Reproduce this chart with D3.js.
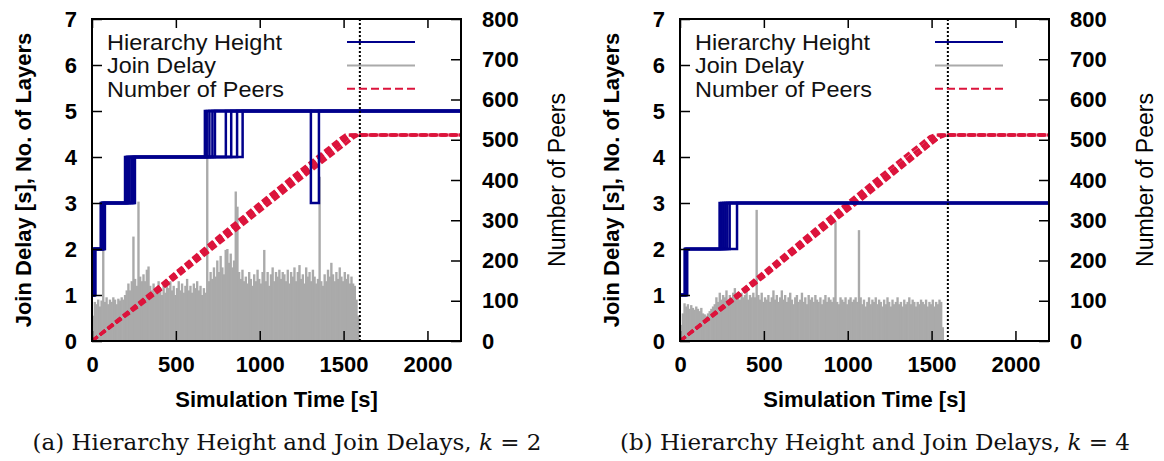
<!DOCTYPE html>
<html>
<head>
<meta charset="utf-8">
<script src="https://cdn.jsdelivr.net/npm/d3@7"></script>
<style>
  body { margin: 0; background: #fff; }
</style>
</head>
<body>
<svg id="chart" width="1164" height="461"></svg>
<script>
// axis ticks
const xTicks = [0, 500, 1000, 1500, 2000];
const yTicks = [0, 1, 2, 3, 4, 5, 6, 7];
const y2Ticks = [0, 100, 200, 300, 400, 500, 600, 700, 800];
const legendLabels = ["Hierarchy Height", "Join Delay", "Number of Peers"];

// join delay [s], one value per 10 s bin starting at t = 0
const binSize = 10;
const delayA = [
  0.55,0.85,0.8,0.9,0.75,0.88,1.98,0.85,0.95,0.8,
  0.9,0.85,0.95,0.9,0.8,0.92,0.88,0.95,0.9,1.0,
  1.1,1.25,1.1,1.3,2.27,1.35,1.2,3.03,1.4,1.3,
  1.45,1.3,1.55,1.62,1.2,1.1,1.25,1.05,1.15,1.3,
  1.1,1.0,1.2,1.05,1.25,1.15,1.3,1.1,1.2,1.0,
  1.15,1.3,1.1,1.25,1.05,1.2,1.35,1.1,1.2,1.05,
  1.25,1.15,1.3,1.1,1.2,1.0,1.15,1.05,4.0,1.3,
  1.5,1.35,1.6,1.4,1.75,1.5,1.85,1.6,1.45,1.98,
  2.0,1.7,1.9,1.6,1.75,3.25,2.92,1.5,1.35,1.55,
  1.3,1.4,1.25,1.5,1.35,1.2,1.45,1.3,1.55,1.35,
  1.25,1.5,1.98,1.3,1.5,1.2,1.45,1.6,1.3,1.5,
  1.4,1.55,1.35,1.5,1.45,1.3,1.55,1.25,1.5,1.4,
  1.6,1.3,1.5,1.65,1.35,1.45,1.25,1.6,1.4,1.5,
  1.3,1.55,1.4,1.25,1.35,3.57,1.3,1.2,1.45,1.3,
  1.55,1.4,1.7,1.45,1.3,1.5,1.35,1.6,1.4,1.3,
  1.5,1.35,1.45,1.25,1.4,1.25,1.2,0.9,0.55
];
const delayB = [
  0.35,0.6,0.82,0.75,0.8,0.7,0.78,0.72,0.68,0.75,
  0.7,0.65,0.72,0.6,0.58,0.55,0.6,0.65,0.7,0.75,
  0.8,0.95,0.85,1.05,0.9,1.0,0.95,1.1,0.9,1.0,
  0.95,1.05,1.15,0.95,1.0,0.9,1.05,0.95,1.0,1.1,
  0.9,1.0,0.95,1.05,0.95,2.85,1.0,0.9,1.05,0.85,
  0.95,0.9,1.0,0.85,0.95,1.1,0.9,1.0,0.85,0.95,
  1.1,0.9,1.0,0.85,0.95,1.05,0.9,0.8,0.95,1.0,
  0.85,0.9,1.05,0.85,0.95,0.8,1.0,0.9,0.95,0.85,
  1.0,0.9,0.85,0.95,0.8,0.9,1.0,0.85,0.95,0.9,
  0.85,0.95,2.6,0.85,0.8,0.95,0.9,0.85,0.95,0.8,
  0.9,0.95,0.85,0.9,0.95,0.85,2.41,0.95,0.8,0.9,
  0.75,0.85,0.95,0.8,0.9,0.85,0.95,0.8,0.9,0.85,
  0.75,0.9,0.8,0.95,0.85,0.75,0.9,0.8,0.85,0.95,
  0.8,0.85,0.75,0.9,0.8,0.85,0.95,0.8,0.9,0.85,
  0.75,0.85,0.8,0.9,0.85,0.8,0.9,0.75,0.85,0.8,
  0.9,0.75,0.85,0.8,0.9,0.85,0.3
];

// hierarchy height per run: [time, layers] step points
const heightRunsA = [
  [[0,1],[8,2],[52,3],[197,4],[673,5],[1305,3],[1353,5]],
  [[0,1],[12,2],[58,3],[205,4],[684,5]],
  [[0,1],[15,2],[62,3],[214,4],[700,5]],
  [[0,1],[18,2],[66,3],[224,4],[718,5]],
  [[0,1],[20,2],[70,3],[236,4],[733,5]],
  [[0,1],[10,2],[74,3],[244,4],[798,5]],
  [[0,1],[14,2],[77,3],[250,4],[830,5]],
  [[0,1],[16,2],[60,3],[256,4],[865,5]],
  [[0,1],[11,2],[64,3],[210,4],[898,5]]
];
const heightRunsB = [
  [[0,1],[28,2],[236,3]],
  [[0,1],[32,2],[246,3]],
  [[0,1],[35,2],[258,3]],
  [[0,1],[38,2],[270,3]],
  [[0,1],[40,2],[282,3]],
  [[0,1],[43,2],[296,3]],
  [[0,1],[30,2],[340,3]]
];

// number of peers per run: [time, peers]
const peerRunsA = [
  [[0,0],[400,128],[800,262],[1200,400],[1500,505],[1525,512],[2200,512]],
  [[0,0],[400,136],[800,275],[1200,410],[1480,503],[1510,512],[2200,512]],
  [[0,0],[400,131],[800,268],[1200,394],[1540,508],[1570,512],[2200,512]],
  [[0,0],[400,124],[800,256],[1200,388],[1560,505],[1590,512],[2200,512]],
  [[0,0],[400,133],[800,270],[1200,405],[1530,510],[1550,512],[2200,512]]
];
const peerRunsB = [
  [[0,0],[400,130],[800,265],[1200,398],[1510,506],[1535,512],[2200,512]],
  [[0,0],[400,137],[800,276],[1200,412],[1490,508],[1515,512],[2200,512]],
  [[0,0],[400,126],[800,258],[1200,390],[1550,507],[1580,512],[2200,512]],
  [[0,0],[400,133],[800,270],[1200,404],[1530,509],[1555,512],[2200,512]],
  [[0,0],[400,129],[800,262],[1200,395],[1545,505],[1590,512],[2200,512]]
];

const joinEnd = 1597; // dotted marker, end of join phase

const svg = d3.select('#chart');
const sans = "'Liberation Sans', Arial, Helvetica, sans-serif";
const W = 369, H = 322;
const BLUE = '#00008b', GRAY = '#aaaaaa', RED = '#dc143c';
const fmt = d3.format('d');

function drawPanel(left, top, id, delays, heightRuns, peerRuns, letter, k) {
  const g = svg.append('g').attr('transform', `translate(${left},${top})`);
  const x = d3.scaleLinear().domain([0, 2200]).range([0, W]);
  const y = d3.scaleLinear().domain([0, 7]).range([H, 0]);
  const y2 = d3.scaleLinear().domain([0, 800]).range([H, 0]);

  g.append('clipPath').attr('id', 'clip' + id)
    .append('rect').attr('width', W).attr('height', H);
  const plot = g.append('g').attr('clip-path', `url(#clip${id})`);

  // join delay impulses
  plot.append('g').selectAll('rect')
    .data(delays)
    .enter().append('rect')
    .attr('x', (d, i) => x(i * binSize))
    .attr('width', x(binSize) - x(0) + 0.7)
    .attr('y', d => y(d))
    .attr('height', d => H - y(d))
    .attr('fill', GRAY);

  // number of peers
  const peerLine = d3.line().x(d => x(d[0])).y(d => y2(d[1]));
  plot.append('g').selectAll('path')
    .data(peerRuns)
    .enter().append('path')
    .attr('d', peerLine)
    .attr('fill', 'none')
    .attr('stroke', RED)
    .attr('stroke-width', 3)
    .attr('stroke-dasharray', '7,3');

  // hierarchy height
  const heightLine = d3.line().curve(d3.curveStepAfter)
    .x(d => x(d[0])).y(d => y(d[1]));
  plot.append('g').selectAll('path')
    .data(heightRuns.map(r => r.concat([[2200, r[r.length - 1][1]]])))
    .enter().append('path')
    .attr('d', heightLine)
    .attr('fill', 'none')
    .attr('stroke', BLUE)
    .attr('stroke-width', 2.5);

  // end of join phase
  g.append('line')
    .attr('x1', x(joinEnd)).attr('x2', x(joinEnd))
    .attr('y1', 0).attr('y2', H)
    .attr('stroke', '#000').attr('stroke-width', 2)
    .attr('stroke-dasharray', '2,2');

  // axes
  const ax = [
    g.append('g').attr('transform', `translate(0,${H})`)
      .call(d3.axisBottom(x).tickValues(xTicks).tickFormat(fmt)
        .tickSize(-10).tickSizeOuter(0).tickPadding(15)),
    g.append('g')
      .call(d3.axisTop(x).tickValues(xTicks).tickSize(-9).tickSizeOuter(0).tickFormat('')),
    g.append('g')
      .call(d3.axisLeft(y).tickValues(yTicks).tickFormat(fmt)
        .tickSize(-10).tickSizeOuter(0).tickPadding(15)),
    g.append('g').attr('transform', `translate(${W},0)`)
      .call(d3.axisRight(y2).tickValues(y2Ticks).tickFormat(fmt)
        .tickSize(-10).tickSizeOuter(0).tickPadding(21))
  ];
  ax.forEach(a => {
    a.select('.domain').remove();
    a.selectAll('.tick line').attr('stroke', '#000').attr('stroke-width', 1.5);
    a.selectAll('.tick text')
      .attr('font-family', sans).attr('font-weight', 'bold')
      .attr('font-size', 22).attr('fill', '#000');
  });

  g.append('rect').attr('width', W).attr('height', H)
    .attr('fill', 'none').attr('stroke', '#000').attr('stroke-width', 2);

  // legend
  const legColors = [BLUE, GRAY, RED];
  const legWidths = [175, 109, 177];
  legendLabels.forEach((lab, i) => {
    const by = 31 + i * 23.4;
    g.append('text').attr('x', 15).attr('y', by)
      .attr('font-family', sans).attr('font-size', 22).attr('fill', '#111')
      .attr('textLength', legWidths[i]).attr('lengthAdjust', 'spacingAndGlyphs')
      .text(lab);
    g.append('line')
      .attr('x1', 255).attr('x2', 323)
      .attr('y1', by - 8).attr('y2', by - 8)
      .attr('stroke', legColors[i]).attr('stroke-width', 2)
      .attr('stroke-dasharray', i === 2 ? '8,4' : null);
  });

  // titles
  g.append('text')
    .attr('transform', `translate(-61,${H / 2}) rotate(-90)`)
    .attr('text-anchor', 'middle')
    .attr('font-family', sans).attr('font-weight', 'bold').attr('font-size', 22)
    .text('Join Delay [s], No. of Layers');
  g.append('text')
    .attr('transform', `translate(${W + 104},${H / 2}) rotate(-90)`)
    .attr('text-anchor', 'middle')
    .attr('font-family', sans).attr('font-size', 23)
    .text('Number of Peers');
  g.append('text')
    .attr('x', W / 2).attr('y', 388)
    .attr('text-anchor', 'middle')
    .attr('font-family', sans).attr('font-weight', 'bold').attr('font-size', 22)
    .text('Simulation Time [s]');

  // caption
  const cap = g.append('text')
    .attr('x', 195).attr('y', 431)
    .attr('text-anchor', 'middle')
    .attr('font-family', "'DejaVu Serif', serif").attr('font-size', 23)
    .attr('fill', '#111');
  cap.append('tspan').text(`(${letter}) Hierarchy Height and Join Delays, `);
  cap.append('tspan').attr('font-style', 'italic').text('k');
  cap.append('tspan').text(` = ${k}`);
}

drawPanel(92, 19, 'a', delayA, heightRunsA, peerRunsA, 'a', 2);
drawPanel(680, 19, 'b', delayB, heightRunsB, peerRunsB, 'b', 4);
</script>
</body>
</html>
